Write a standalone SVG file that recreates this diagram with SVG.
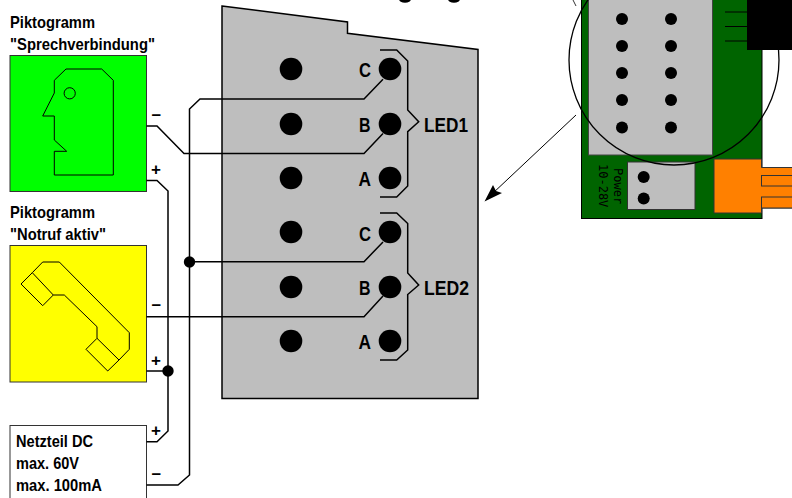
<svg xmlns="http://www.w3.org/2000/svg" width="792" height="498" viewBox="0 0 792 498">
<style>
.t{font-family:"Liberation Sans",Arial,sans-serif;font-weight:700;fill:#000;font-size:17px}
.s{font-size:20px}
.m{font-size:17px}
.w{fill:none;stroke:#000;stroke-width:1.5}
.p{fill:#000}
.i{fill:none;stroke:#000;stroke-width:1}
.box{stroke:#333;stroke-width:1}
.o{fill:#ff8000;stroke:#333;stroke-width:1}
</style>
<ellipse class="p" cx="405" cy="-1" rx="6" ry="3.800"/>
<ellipse class="p" cx="454" cy="-1" rx="6" ry="3.800"/>
<g id="device">
<path d="M222 6L347.500 22L347.500 33.300L478 49.500L478 398.500L222 398.500Z" fill="#bebebe" stroke="#000" stroke-width="1.500"/>
<circle class="p" cx="291" cy="69" r="11.300"/><circle class="p" cx="291" cy="124" r="11.300"/><circle class="p" cx="291" cy="178" r="11.300"/><circle class="p" cx="291" cy="232" r="11.300"/><circle class="p" cx="291" cy="287" r="11.300"/><circle class="p" cx="291" cy="341" r="11.300"/>
<circle class="p" cx="390" cy="69" r="11.300"/><circle class="p" cx="390" cy="124" r="11.300"/><circle class="p" cx="390" cy="178" r="11.300"/><circle class="p" cx="390" cy="232" r="11.300"/><circle class="p" cx="390" cy="287" r="11.300"/><circle class="p" cx="390" cy="341" r="11.300"/>
<text class="t s" x="359" y="77" textLength="12" lengthAdjust="spacingAndGlyphs">C</text>
<text class="t s" x="359" y="131.500" textLength="11.500" lengthAdjust="spacingAndGlyphs">B</text>
<text class="t s" x="358.500" y="186" textLength="12.500" lengthAdjust="spacingAndGlyphs">A</text>
<text class="t s" x="359" y="240.500" textLength="12" lengthAdjust="spacingAndGlyphs">C</text>
<text class="t s" x="359" y="295" textLength="11.500" lengthAdjust="spacingAndGlyphs">B</text>
<text class="t s" x="358.500" y="349" textLength="12.500" lengthAdjust="spacingAndGlyphs">A</text>
<text class="t s" x="424" y="132" textLength="44" lengthAdjust="spacingAndGlyphs">LED1</text>
<text class="t s" x="424" y="295" textLength="45" lengthAdjust="spacingAndGlyphs">LED2</text>
<path class="w" d="M380 50L396.700 50L407.700 61L407.700 110L418.700 121.700L407.700 131.700L407.700 186L396.700 197L380 197"/>
<path class="w" d="M380 213L396.700 213L407.700 223.500L407.700 273L418.700 285L407.700 294.500L407.700 350L396.700 360L380 360"/>
</g>
<g id="pcb">
<rect x="581.500" y="-5" width="180.500" height="223.500" fill="#006400" stroke="#000"/>
<rect x="588.500" y="-5" width="124" height="160" fill="#bebebe" stroke="#444"/>
<g class="p"><circle cx="622" cy="19" r="6"/><circle cx="671" cy="19" r="6"/><circle cx="622" cy="46" r="6"/><circle cx="671" cy="46" r="6"/><circle cx="622" cy="73" r="6"/><circle cx="671" cy="73" r="6"/><circle cx="622" cy="100" r="6"/><circle cx="671" cy="100" r="6"/><circle cx="622" cy="127.500" r="6"/><circle cx="671" cy="127.500" r="6"/></g>
<rect x="627.500" y="162" width="67.500" height="47.500" fill="#bebebe" stroke="#333"/>
<circle class="p" cx="643.700" cy="177" r="6"/><circle class="p" cx="643.700" cy="198.500" r="6"/>
<path class="o" d="M714 159L761.500 159L761.500 167.500L800 167.500L800 208L761.500 208L761.500 213L714 213Z"/>
<rect class="o" x="761.500" y="175.500" width="40" height="10.500"/>
<rect class="o" x="761.500" y="197" width="40" height="11"/>
<rect x="747" y="-5" width="50" height="55" fill="#000"/>
<path d="M725 12H747M725 26.500H747M725 41H747" stroke="#000" stroke-width="1"/>
<text transform="translate(599 164) rotate(90)" font-family="'DejaVu Sans Mono',monospace" font-size="12" fill="#000">10-28V</text>
<text transform="translate(613.500 168) rotate(90)" font-family="'DejaVu Sans Mono',monospace" font-size="12" fill="#000">Power</text>
</g>
<g id="zoom-lens">
<circle cx="674" cy="60" r="105" fill="none" stroke="#000" stroke-width="1.300"/>
<path d="M573 0L576 6" stroke="#000" stroke-width=".8" fill="none"/>
<path d="M576 115L492 194" stroke="#000" stroke-width="1" fill="none"/>
<path d="M484.500 201.500L493 185L496 191L502 193Z" class="p"/>
</g>
<g id="pikto-sprech">
<text class="t" x="10" y="28" textLength="85" lengthAdjust="spacingAndGlyphs">Piktogramm</text>
<text class="t" x="10" y="49.500" textLength="145" lengthAdjust="spacingAndGlyphs">"Sprechverbindung"</text>
<rect class="box" x="10" y="55.500" width="136.500" height="136" fill="#00ff00"/>
<path class="i" d="M66 69L101.700 69L113.300 80.300L113.300 175L54.300 175L54.300 151.300L66.700 151.300L54.300 140L54.300 116L42.700 116L54.300 93L54.300 80.300Z"/>
<circle class="i" cx="69.700" cy="93.300" r="5.600"/>
</g>
<g id="pikto-notruf">
<text class="t" x="10" y="218" textLength="85" lengthAdjust="spacingAndGlyphs">Piktogramm</text>
<text class="t" x="10" y="240" textLength="96" lengthAdjust="spacingAndGlyphs">"Notruf aktiv"</text>
<rect class="box" x="10" y="245.500" width="136.500" height="136.500" fill="#ffff00"/>
<path class="i" d="M32.300 272.700L42.700 262L59.300 262L129.300 332.700L129.300 349.300L119 360M32.300 272.700L53.300 295L64.300 295L97 326.700L97 338.300M21 284L42.700 305.700L53.300 295M32.300 272.700L21 284M97 338.300L86 349.300L107.700 371L119 360L97 338.300"/>
</g>
<g id="netzteil">
<rect x="10" y="425.500" width="136.500" height="80" fill="#fff" stroke="#333" stroke-width="1"/>
<text class="t" x="16" y="447" textLength="77" lengthAdjust="spacingAndGlyphs">Netzteil DC</text>
<text class="t" x="16" y="468.500" textLength="63" lengthAdjust="spacingAndGlyphs">max. 60V</text>
<text class="t" x="16" y="491" textLength="86" lengthAdjust="spacingAndGlyphs">max. 100mA</text>
</g>
<g id="connectors">
<path class="w" d="M146.500 126L157 126L184 153.500L364 153.500L383 133.500"/>
<path class="w" d="M146.500 180.500L157 180.500L168 191L168 431L157 441.700L146.500 441.700"/>
<path class="w" d="M146.500 371L168 371"/>
<path class="w" d="M146.500 316.700L364 316.700L383 296"/>
<path class="w" d="M146.500 485L178 485L189.500 475L189.500 109L200 99L364 99L383 79.300"/>
<path class="w" d="M189.500 261.700L364 261.700L383 242"/>
<circle class="p" cx="189.500" cy="262" r="5.700"/>
<circle class="p" cx="168" cy="371" r="5.700"/>
<text class="t m" x="151.500" y="119.600">–</text>
<text class="t m" x="151" y="174.500">+</text>
<text class="t m" x="151.500" y="309.600">–</text>
<text class="t m" x="151" y="366">+</text>
<text class="t m" x="151" y="435.500">+</text>
<text class="t m" x="151.500" y="478.600">–</text>
</g>
</svg>
